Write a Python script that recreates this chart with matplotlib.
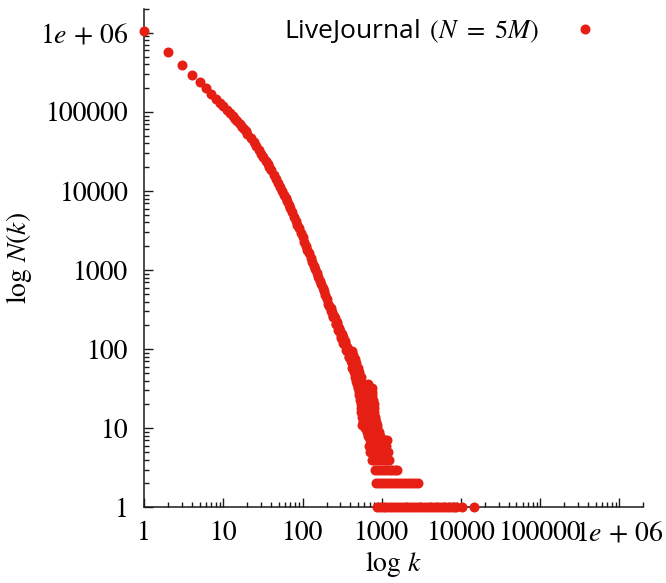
import matplotlib
matplotlib.use("Agg")
import matplotlib.pyplot as plt
from matplotlib.ticker import LogLocator, FixedLocator, FixedFormatter, NullFormatter

plt.rcParams['mathtext.fontset'] = 'stix'
plt.rcParams['font.family'] = 'STIXGeneral'

# Degree distribution of the LiveJournal graph: number of nodes N(k) with degree k.
# Smooth body of the distribution.
body_k = [1, 2, 3, 4, 5, 6, 7, 8, 9, 10, 11, 12, 13, 14, 15, 16, 17, 18, 19, 20,
          22, 24, 26, 28, 30, 32, 34, 36, 38, 40, 43, 46, 49, 52, 55, 58, 61, 64,
          67, 70, 74, 78, 82, 86, 90, 95, 100, 105, 110, 115, 120, 126, 132, 138,
          144, 150, 157, 164, 171, 178, 185, 193]
body_n = [1050000, 565000, 387000, 294000, 238000, 198000, 168000, 147000, 131000,
          118000, 107000, 97600, 89500, 82300, 75900, 70300, 65300, 60800, 56700,
          53000, 46600, 41300, 36700, 32900, 29600, 26700, 24200, 22000, 20000,
          18300, 16100, 14200, 12600, 11200, 10000, 9000, 8100, 7390, 6690, 6070,
          5350, 4740, 4210, 3755, 3363, 2940, 2582, 2280, 2025, 1808, 1622, 1432,
          1272, 1136, 1019, 918, 817, 733, 660, 597, 542, 488]

# Noisy tail: high degrees with few nodes each.
tail_k = [201, 209, 217, 226, 235, 244, 254, 264, 274, 285, 296, 308, 320, 332, 345,
          358, 372, 386, 400,
          230, 240, 250, 260, 270, 280, 290, 302, 314, 326, 338, 351, 365, 379, 393, 407,
          390, 415,
          400, 428,
          410, 438, 458,
          420, 445, 470,
          425, 452, 478, 498,
          440, 468, 495, 518,
          455, 485, 515, 540,
          470, 500, 530,
          490, 520, 555, 600, 660,
          505, 540, 580, 620, 690, 750,
          515, 550, 590, 640, 700, 745,
          520, 560, 600, 650, 710, 760,
          525, 570, 615, 660, 720, 770,
          540, 585, 630, 680, 735, 785,
          545, 595, 640, 690, 745, 790,
          550, 600, 650, 700, 755, 800,
          560, 610, 660, 715, 770, 810,
          575, 625, 680, 735, 790, 825,
          580, 635, 690, 745, 800, 840,
          555, 600, 650, 705, 760, 820, 860,
          620, 670, 725, 780, 840, 880,
          650, 700, 760, 820, 870, 910,
          665, 720, 780, 840, 890, 940,
          700, 760, 820, 880, 950, 1020, 1090, 1150,
          690, 750, 810, 870, 940, 1010, 1080, 1140,
          710, 770, 830, 900, 970, 1040, 1110, 1180,
          740, 800, 870, 940, 1010, 1080, 1150, 1220,
          830, 900, 980, 1060, 1150, 1250, 1350, 1460, 1560,
          850, 920, 1000, 1090, 1190, 1300, 1420, 1550, 1690, 1850, 2020, 2200,
          2400, 2630, 2870,
          865, 940, 1020, 1110, 1210, 1320, 1440, 1570, 1710, 1860, 2030, 2210,
          2410, 2630, 2870, 3130, 3410, 3720, 4050, 4420, 4820, 5250, 5720, 6240,
          6800, 7420, 8080, 8650, 10200, 14700]
tail_n = [430, 372, 356, 305, 296, 252, 247, 206, 207, 171, 170, 140, 141, 115, 118,
          95, 98, 79, 83,
          330, 260, 265, 210, 222, 176, 186, 148, 155, 118, 128, 98, 106, 80, 91, 70,
          95, 95,
          85, 85,
          75, 75, 75,
          66, 66, 66,
          58, 58, 58, 58,
          51, 51, 51, 51,
          45, 45, 45, 45,
          40, 40, 40,
          36, 36, 36, 36, 36,
          32, 32, 32, 32, 32, 32,
          29, 29, 29, 29, 29, 29,
          26, 26, 26, 26, 26, 26,
          23, 23, 23, 23, 23, 23,
          20, 20, 20, 20, 20, 20,
          18, 18, 18, 18, 18, 18,
          16, 16, 16, 16, 16, 16,
          14, 14, 14, 14, 14, 14,
          13, 13, 13, 13, 13, 13,
          12, 12, 12, 12, 12, 12,
          11, 11, 11, 11, 11, 11, 11,
          10, 10, 10, 10, 10, 10,
          9, 9, 9, 9, 9, 9,
          8, 8, 8, 8, 8, 8,
          7, 7, 7, 7, 7, 7, 7, 7,
          6, 6, 6, 6, 6, 6, 6, 6,
          5, 5, 5, 5, 5, 5, 5, 5,
          4, 4, 4, 4, 4, 4, 4, 4,
          3, 3, 3, 3, 3, 3, 3, 3, 3,
          2, 2, 2, 2, 2, 2, 2, 2, 2, 2, 2, 2, 2, 2, 2,
          1, 1, 1, 1, 1, 1, 1, 1, 1, 1, 1, 1, 1, 1, 1, 1, 1, 1, 1, 1, 1, 1, 1, 1,
          1, 1, 1, 1, 1, 1]

tick_values = [1, 10, 100, 1000, 10000, 100000, 1000000]
tick_labels = ['1', '10', '100', '1000', '10000', '100000', r'$1e\,+\,06$']
series_label = r'LiveJournal $\,(N\ =\ 5M)$'

RED = '#e51f14'
INK = '#1a1a1a'

fig = plt.figure(figsize=(6.66, 5.83), dpi=100)
ax = fig.add_axes([144.3 / 666, 1 - 507.3 / 583, (643.3 - 144.3) / 666, (507.3 - 9) / 583])

ax.scatter(body_k + tail_k, body_n + tail_n, s=52, color=RED, linewidths=0,
           label=series_label, zorder=3, clip_on=False)

ax.set_xscale('log')
ax.set_yscale('log')
ax.set_xlim(1, 2e6)
ax.set_ylim(1, 2e6)

for axis in (ax.xaxis, ax.yaxis):
    axis.set_major_locator(FixedLocator(tick_values))
    axis.set_major_formatter(FixedFormatter(tick_labels))
    axis.set_minor_locator(LogLocator(base=10, subs=range(2, 10), numticks=30))
    axis.set_minor_formatter(NullFormatter())

ax.tick_params(which='both', direction='in', top=False, right=False, color=INK,
               labelsize=20, labelcolor='black')
ax.tick_params(which='major', length=6.5, width=1.0)
ax.tick_params(which='minor', length=3.6, width=1.0)
ax.tick_params(axis='x', which='major', pad=10)
ax.tick_params(axis='y', which='major', pad=11.5)

for side in ('top', 'right'):
    ax.spines[side].set_visible(False)
for side in ('left', 'bottom'):
    ax.spines[side].set_linewidth(1.1)
    ax.spines[side].set_color(INK)

ax.set_xlabel(r'$\log\,k$', fontsize=20, labelpad=2)
ax.set_ylabel(r'$\log\,N(k)$', fontsize=20, labelpad=4)

leg = ax.legend(loc='center right', bbox_to_anchor=(611.8 / 666, 1 - 31 / 583),
                bbox_transform=fig.transFigure, frameon=False, markerfirst=False,
                scatterpoints=1, scatteryoffsets=[0.5], borderpad=0, borderaxespad=0,
                handlelength=2.0, handletextpad=0.75,
                prop={'family': 'Open Sans', 'size': 19})

fig.savefig('out.png', dpi=100)
